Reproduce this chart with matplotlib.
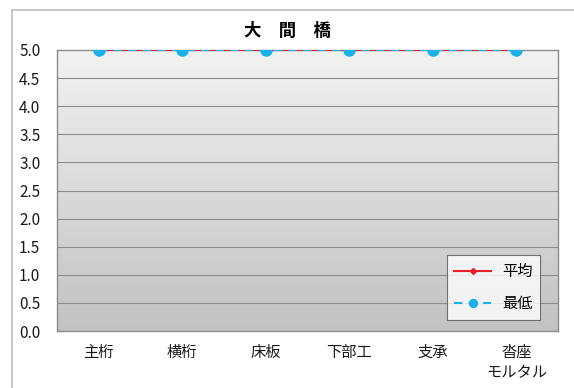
import numpy as np
import matplotlib
matplotlib.use("Agg")
import matplotlib.pyplot as plt
from matplotlib.patches import Rectangle
from matplotlib.colors import LinearSegmentedColormap

plt.rcParams['font.family'] = ['Noto Sans CJK JP', 'DejaVu Sans']

categories = ['主桁', '横桁', '床板', '下部工', '支承', '沓座\nモルタル']
avg_values = [5.0, 5.0, 5.0, 5.0, 5.0, 5.0]
min_values = [5.0, 5.0, 5.0, 5.0, 5.0, 5.0]
title = '大　間　橋'
yticks = [0.0, 0.5, 1.0, 1.5, 2.0, 2.5, 3.0, 3.5, 4.0, 4.5, 5.0]

fig = plt.figure(figsize=(5.74, 3.88), dpi=100)
W, H = 574, 388

# outer chart frame
fig.patches.append(Rectangle((12 / W, -0.1), 1.2, 1 - 10 / H + 0.1,
                             transform=fig.transFigure, fill=False,
                             edgecolor='#bcbcbc', linewidth=1.2))

ax = fig.add_axes([57 / W, 1 - 331 / H, (558 - 57) / W, (331 - 50) / H])
x = np.arange(len(categories))
ax.set_xlim(-0.5, len(categories) - 0.5)
ax.set_ylim(0, 5)

# vertical gradient background
grad = np.linspace(0, 1, 256).reshape(-1, 1)
cmap = LinearSegmentedColormap.from_list('bg', ['#c2c2c2', '#f2f2f2'])
ax.imshow(grad, aspect='auto', cmap=cmap, origin='lower',
          extent=[-0.5, len(categories) - 0.5, 0, 5], zorder=0)

for yv in yticks[1:-1]:
    ax.axhline(yv, color='#8c8c8c', linewidth=0.8, zorder=1)

ax.plot(x, avg_values, color='#e8202a', linewidth=1.5, marker='D',
        markersize=4, zorder=3, label='平均')
ax.plot(x, min_values, color='#1ab0e8', linewidth=1.5, linestyle=(0, (4, 3)),
        marker='o', markersize=9, markeredgewidth=0, zorder=4, label='最低')

ax.set_yticks(yticks)
ax.set_yticklabels([f'{v:.1f}' for v in yticks], fontsize=11, color='#1a1a1a')
ax.set_xticks(x)
ax.set_xticklabels(categories, fontsize=11, linespacing=1.25, color='#1a1a1a')
ax.tick_params(axis='both', length=0)
ax.tick_params(axis='x', pad=9)
ax.tick_params(axis='y', pad=12)

for side in ['top', 'right', 'left', 'bottom']:
    ax.spines[side].set_color('#8c8c8c')
    ax.spines[side].set_linewidth(1.0)

fig.text(287 / W, 1 - 31 / H, title, fontsize=12.5, fontweight='bold',
         ha='center', va='center')

leg = ax.legend(loc='lower right', bbox_to_anchor=(0.964, 0.039),
                borderaxespad=0, fontsize=11, frameon=True, fancybox=False,
                edgecolor='#555555', handlelength=2.4, borderpad=0.5,
                labelspacing=1.0, markerscale=0.75, handletextpad=0.7)
leg.get_frame().set_linewidth(0.8)

fig.savefig('out.png', dpi=100)
